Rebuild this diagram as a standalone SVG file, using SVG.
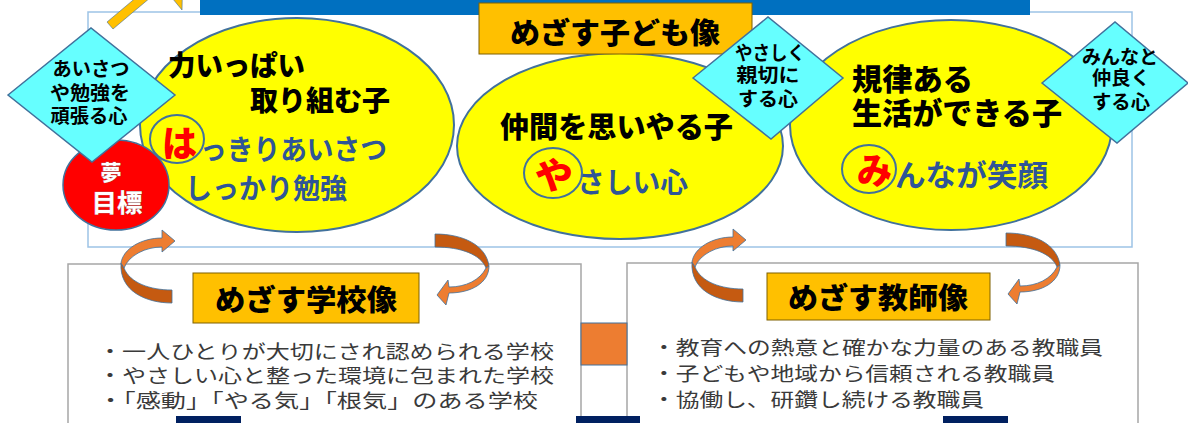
<svg xmlns="http://www.w3.org/2000/svg" width="1188" height="423" viewBox="0 0 1188 423">
<style>
.h{font-family:"Noto Sans CJK JP","Noto Sans",sans-serif;font-weight:900;fill:#000}
.b{font-family:"Noto Sans CJK JP","Noto Sans",sans-serif;font-weight:700;fill:#2f5597}
.r{font-family:"Noto Sans CJK JP","Noto Sans",sans-serif;font-weight:900;fill:#ff0000}
.d{font-family:"Noto Sans CJK JP","Noto Sans",sans-serif;font-weight:700;fill:#000;font-size:19px;text-anchor:middle}
.w{font-family:"Noto Sans CJK JP","Noto Sans",sans-serif;font-weight:700;fill:#fff;stroke:#8a8a8a;stroke-width:0.6;paint-order:stroke;text-anchor:middle}
.t{font-family:"Noto Sans CJK JP","Noto Sans",sans-serif;font-weight:400;fill:#3a3a3a;font-size:19px}
.ell{fill:#ffff00;stroke:#41719c;stroke-width:2}
.dia{fill:#66ffff;stroke:#41719c;stroke-width:1.5}
.lbl{fill:#ffc000;stroke:#7f6000;stroke-width:1}
.ring{fill:none;stroke:#41719c;stroke-width:2}
.lt{fill:#ed7d31;stroke:#41719c;stroke-width:0.8}
.dk{fill:#c55a11;stroke:#41719c;stroke-width:0.8}
.box{fill:#fff;stroke:#a6a6a6;stroke-width:1.5}
.navy{fill:#002060}
</style>
<defs>
<g id="arrL">
<path class="dk" d="M121,263 C119,291 146,303 172,303 L172,290 C150,290 130,283 124,268 Z"/>
<path class="lt" d="M121,263 C123,249 141,238 162,238 L162,230 L175,241 L162,252 L162,247 C146,247 129,255 124,268 Z"/>
</g>
<g id="arrR">
<path class="dk" d="M435,234 C463,234 486,245 489,266 L486,268 C481,255 462,247 435,247 Z"/>
<path class="lt" d="M489,266 C489,283 471,293 449,293 L446,305 L437,295 L448,280 L449,287 C466,287 480,280 486,268 Z"/>
</g>
</defs>
<rect x="0" y="0" width="1188" height="423" fill="#fff"/>
<g id="frame">
<rect x="88" y="12" width="1044" height="235" fill="none" stroke="#9dc3e6" stroke-width="1.5"/>
<rect x="200" y="0" width="830" height="15" fill="#0070c0"/>
</g>
<g id="node-left">
<ellipse class="ell" cx="297" cy="125" rx="157" ry="107"/>
<text class="h" x="168" y="76" font-size="28" textLength="137" lengthAdjust="spacingAndGlyphs">力いっぱい</text>
<text class="h" x="250" y="111" font-size="28" textLength="140" lengthAdjust="spacingAndGlyphs">取り組む子</text>
<text class="r" x="162" y="157" font-size="36" textLength="35" lengthAdjust="spacingAndGlyphs">は</text>
<text class="b" x="200" y="160" font-size="28" textLength="187" lengthAdjust="spacingAndGlyphs">っきりあいさつ</text>
<text class="b" x="185" y="198.5" font-size="28" textLength="162" lengthAdjust="spacingAndGlyphs">しっかり勉強</text>
<ellipse class="ring" cx="177" cy="139" rx="27" ry="24"/>
</g>
<g id="node-middle">
<ellipse class="ell" cx="620" cy="146" rx="163" ry="93"/>
<text class="h" x="500" y="137.5" font-size="29" textLength="233" lengthAdjust="spacingAndGlyphs">仲間を思いやる子</text>
<text class="r" x="535" y="188.5" font-size="36" textLength="38" lengthAdjust="spacingAndGlyphs">や</text>
<text class="b" x="577" y="193" font-size="28" textLength="111" lengthAdjust="spacingAndGlyphs">さしい心</text>
<ellipse class="ring" cx="553" cy="173" rx="29" ry="25"/>
</g>
<g id="node-right">
<ellipse class="ell" cx="951" cy="125" rx="161" ry="105"/>
<text class="h" x="852" y="90" font-size="30" textLength="121" lengthAdjust="spacingAndGlyphs">規律ある</text>
<text class="h" x="852" y="124" font-size="30" textLength="210" lengthAdjust="spacingAndGlyphs">生活ができる子</text>
<text class="r" x="857" y="183.5" font-size="36" textLength="35" lengthAdjust="spacingAndGlyphs">み</text>
<text class="b" x="895" y="185.5" font-size="30" textLength="153" lengthAdjust="spacingAndGlyphs">んなが笑顔</text>
<ellipse class="ring" cx="869" cy="169" rx="27" ry="24"/>
</g>
<g id="node-title">
<rect class="lbl" x="479" y="3" width="273" height="51"/>
<text class="h" x="510" y="43.5" font-size="29" textLength="210" lengthAdjust="spacingAndGlyphs">めざす子ども像</text>
</g>
<g id="node-dream">
<ellipse cx="116" cy="185" rx="53" ry="45" fill="#ff0000" stroke="#41719c" stroke-width="1.5"/>
<text class="w" x="111" y="180" font-size="21">夢</text>
<text class="w" x="117" y="211.5" font-size="25" textLength="51" lengthAdjust="spacingAndGlyphs">目標</text>
</g>
<g id="node-diamond-left">
<polygon class="dia" points="8,95 91,28 175,95 92,162"/>
<text class="d" x="91" y="76" textLength="77" lengthAdjust="spacingAndGlyphs">あいさつ</text>
<text class="d" x="90" y="100" textLength="80" lengthAdjust="spacingAndGlyphs">や勉強を</text>
<text class="d" x="89" y="123" textLength="77" lengthAdjust="spacingAndGlyphs">頑張る心</text>
</g>
<g id="node-diamond-middle">
<polygon class="dia" points="693,78 768,17 843,78 771,139"/>
<text class="d" x="770" y="60" textLength="70" lengthAdjust="spacingAndGlyphs">やさしく</text>
<text class="d" x="768" y="82" textLength="63" lengthAdjust="spacingAndGlyphs">親切に</text>
<text class="d" x="768" y="106" textLength="60" lengthAdjust="spacingAndGlyphs">する心</text>
</g>
<g id="node-diamond-right">
<polygon class="dia" points="1042,83 1115,22 1188,83 1117,143"/>
<text class="d" x="1120" y="64" textLength="76" lengthAdjust="spacingAndGlyphs">みんなと</text>
<text class="d" x="1121" y="85" textLength="58" lengthAdjust="spacingAndGlyphs">仲良く</text>
<text class="d" x="1121" y="109" textLength="58" lengthAdjust="spacingAndGlyphs">する心</text>
</g>
<g id="node-school">
<rect class="box" x="68" y="264" width="513" height="170"/>
<rect class="lbl" x="193" y="273" width="226" height="50"/>
<text class="h" x="215" y="311" font-size="29" textLength="182" lengthAdjust="spacingAndGlyphs">めざす学校像</text>
<text class="t" x="98" y="359" textLength="456" lengthAdjust="spacingAndGlyphs">・一人ひとりが大切にされ認められる学校</text>
<text class="t" x="98" y="383" textLength="456" lengthAdjust="spacingAndGlyphs">・やさしい心と整った環境に包まれた学校</text>
<text class="t" x="98" y="408" textLength="440" lengthAdjust="spacingAndGlyphs">・「感動」「やる気」「根気」のある学校</text>
</g>
<g id="node-teacher">
<rect class="box" x="627" y="263" width="511" height="170"/>
<rect class="lbl" x="767" y="273" width="223" height="47"/>
<text class="h" x="788" y="308.5" font-size="29" textLength="180" lengthAdjust="spacingAndGlyphs">めざす教師像</text>
<text class="t" x="652" y="355" textLength="451" lengthAdjust="spacingAndGlyphs">・教育への熱意と確かな力量のある教職員</text>
<text class="t" x="652" y="381" textLength="403" lengthAdjust="spacingAndGlyphs">・子どもや地域から信頼される教職員</text>
<text class="t" x="652" y="406.5" textLength="332" lengthAdjust="spacingAndGlyphs">・協働し、研鑽し続ける教職員</text>
</g>
<g id="node-bottom">
<rect x="581" y="323" width="46" height="42" fill="#ed7d31" stroke="#41719c" stroke-width="1"/>
<rect class="navy" x="176" y="416" width="65" height="7"/>
<rect class="navy" x="576" y="416" width="64" height="7"/>
<rect class="navy" x="943" y="416" width="65" height="7"/>
</g>
<g id="connectors">
<use href="#arrL"/>
<use href="#arrR"/>
<use href="#arrL" transform="translate(571,-1)"/>
<use href="#arrR" transform="translate(571,-1)"/>
<polygon points="107,22 157,-20 138,-43 183,-36 182,10 163,-13 113,29" fill="#ffc000" stroke="#41719c" stroke-width="0.6"/>
</g>
</svg>
